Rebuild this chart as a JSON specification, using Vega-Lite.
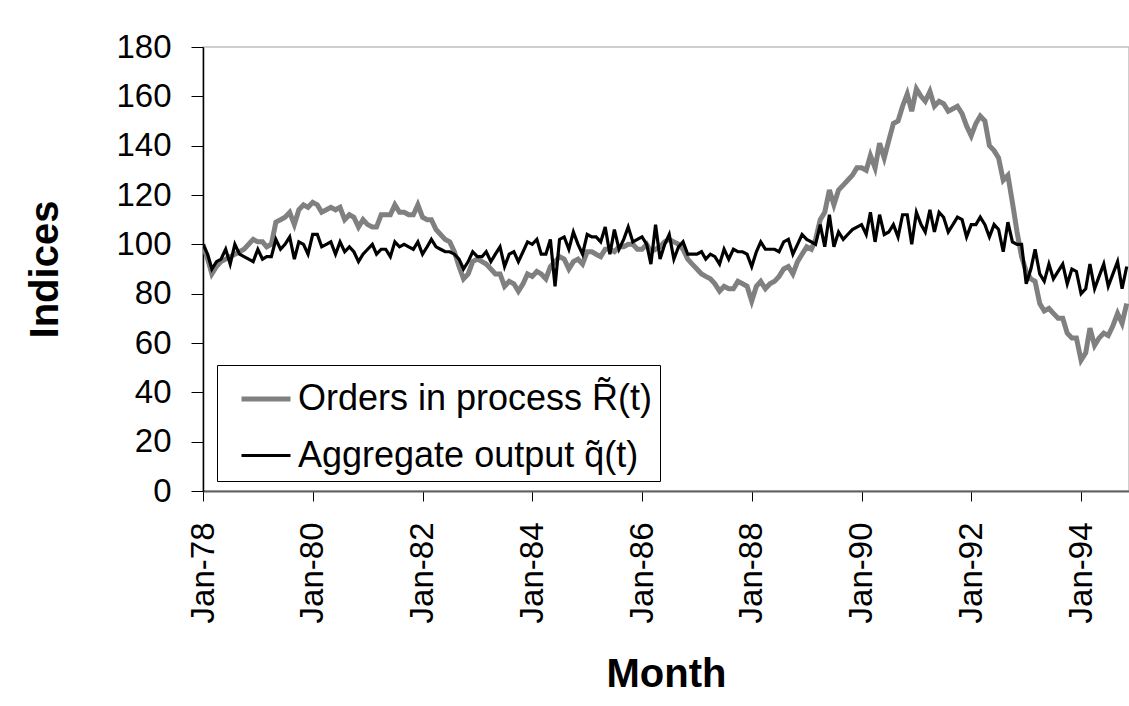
{
 "$schema": "https://vega.github.io/schema/vega-lite/v6.json",
 "width": 926, "height": 444,
 "autosize": "none",
 "padding": {"left": 203, "top": 47, "right": 0, "bottom": 215},
 "background": "white",
 "data": {"values": [
{"d":"1978-01-01","R":100,"q":100},{"d":"1978-02-01","R":94,"q":96},{"d":"1978-03-01","R":88,"q":90},{"d":"1978-04-01","R":91,"q":93},{"d":"1978-05-01","R":93,"q":94},{"d":"1978-06-01","R":94,"q":98},{"d":"1978-07-01","R":95,"q":92},{"d":"1978-08-01","R":96,"q":100},{"d":"1978-09-01","R":97,"q":96},{"d":"1978-10-01","R":98,"q":95},{"d":"1978-11-01","R":100,"q":94},{"d":"1978-12-01","R":102,"q":93},
{"d":"1979-01-01","R":101,"q":98},{"d":"1979-02-01","R":101,"q":94},{"d":"1979-03-01","R":99,"q":95},{"d":"1979-04-01","R":100,"q":95},{"d":"1979-05-01","R":109,"q":102},{"d":"1979-06-01","R":110,"q":98},{"d":"1979-07-01","R":111,"q":100},{"d":"1979-08-01","R":113,"q":103},{"d":"1979-09-01","R":108,"q":94},{"d":"1979-10-01","R":114,"q":101},{"d":"1979-11-01","R":116,"q":100},{"d":"1979-12-01","R":115,"q":96},
{"d":"1980-01-01","R":117,"q":104},{"d":"1980-02-01","R":116,"q":104},{"d":"1980-03-01","R":113,"q":99},{"d":"1980-04-01","R":114,"q":100},{"d":"1980-05-01","R":115,"q":101},{"d":"1980-06-01","R":114,"q":96},{"d":"1980-07-01","R":115,"q":101},{"d":"1980-08-01","R":110,"q":97},{"d":"1980-09-01","R":112,"q":99},{"d":"1980-10-01","R":111,"q":97},{"d":"1980-11-01","R":107,"q":93},{"d":"1980-12-01","R":110,"q":96},
{"d":"1981-01-01","R":108,"q":98},{"d":"1981-02-01","R":107,"q":100},{"d":"1981-03-01","R":107,"q":96},{"d":"1981-04-01","R":112,"q":98},{"d":"1981-05-01","R":112,"q":98},{"d":"1981-06-01","R":112,"q":95},{"d":"1981-07-01","R":116,"q":101},{"d":"1981-08-01","R":113,"q":99},{"d":"1981-09-01","R":113,"q":100},{"d":"1981-10-01","R":112,"q":99},{"d":"1981-11-01","R":112,"q":98},{"d":"1981-12-01","R":116,"q":101},
{"d":"1982-01-01","R":111,"q":96},{"d":"1982-02-01","R":110,"q":99},{"d":"1982-03-01","R":110,"q":102},{"d":"1982-04-01","R":106,"q":99},{"d":"1982-05-01","R":104,"q":98},{"d":"1982-06-01","R":102,"q":97},{"d":"1982-07-01","R":101,"q":97},{"d":"1982-08-01","R":97,"q":96},{"d":"1982-09-01","R":91,"q":94},{"d":"1982-10-01","R":86,"q":90},{"d":"1982-11-01","R":88,"q":93},{"d":"1982-12-01","R":93,"q":97},
{"d":"1983-01-01","R":94,"q":95},{"d":"1983-02-01","R":93,"q":95},{"d":"1983-03-01","R":92,"q":97},{"d":"1983-04-01","R":90,"q":93},{"d":"1983-05-01","R":88,"q":96},{"d":"1983-06-01","R":88,"q":99},{"d":"1983-07-01","R":83,"q":91},{"d":"1983-08-01","R":85,"q":96},{"d":"1983-09-01","R":84,"q":97},{"d":"1983-10-01","R":81,"q":93},{"d":"1983-11-01","R":84,"q":97},{"d":"1983-12-01","R":88,"q":101},
{"d":"1984-01-01","R":87,"q":100},{"d":"1984-02-01","R":89,"q":102},{"d":"1984-03-01","R":88,"q":96},{"d":"1984-04-01","R":86,"q":96},{"d":"1984-05-01","R":91,"q":102},{"d":"1984-06-01","R":93,"q":83},{"d":"1984-07-01","R":95,"q":102},{"d":"1984-08-01","R":94,"q":103},{"d":"1984-09-01","R":90,"q":98},{"d":"1984-10-01","R":93,"q":105},{"d":"1984-11-01","R":94,"q":100},{"d":"1984-12-01","R":92,"q":96},
{"d":"1985-01-01","R":97,"q":104},{"d":"1985-02-01","R":97,"q":103},{"d":"1985-03-01","R":96,"q":103},{"d":"1985-04-01","R":95,"q":101},{"d":"1985-05-01","R":98,"q":107},{"d":"1985-06-01","R":98,"q":96},{"d":"1985-07-01","R":97,"q":106},{"d":"1985-08-01","R":99,"q":98},{"d":"1985-09-01","R":99,"q":102},{"d":"1985-10-01","R":100,"q":107},{"d":"1985-11-01","R":100,"q":101},{"d":"1985-12-01","R":98,"q":102},
{"d":"1986-01-01","R":98,"q":103},{"d":"1986-02-01","R":100,"q":100},{"d":"1986-03-01","R":97,"q":92},{"d":"1986-04-01","R":98,"q":108},{"d":"1986-05-01","R":99,"q":94},{"d":"1986-06-01","R":101,"q":100},{"d":"1986-07-01","R":102,"q":104},{"d":"1986-08-01","R":101,"q":94},{"d":"1986-09-01","R":100,"q":99},{"d":"1986-10-01","R":98,"q":101},{"d":"1986-11-01","R":94,"q":96},{"d":"1986-12-01","R":92,"q":96},
{"d":"1987-01-01","R":90,"q":96},{"d":"1987-02-01","R":88,"q":97},{"d":"1987-03-01","R":87,"q":94},{"d":"1987-04-01","R":86,"q":96},{"d":"1987-05-01","R":84,"q":95},{"d":"1987-06-01","R":81,"q":92},{"d":"1987-07-01","R":83,"q":98},{"d":"1987-08-01","R":82,"q":94},{"d":"1987-09-01","R":82,"q":98},{"d":"1987-10-01","R":85,"q":97},{"d":"1987-11-01","R":84,"q":97},{"d":"1987-12-01","R":83,"q":96},
{"d":"1988-01-01","R":77,"q":91},{"d":"1988-02-01","R":83,"q":97},{"d":"1988-03-01","R":85,"q":101},{"d":"1988-04-01","R":82,"q":98},{"d":"1988-05-01","R":84,"q":98},{"d":"1988-06-01","R":85,"q":98},{"d":"1988-07-01","R":87,"q":97},{"d":"1988-08-01","R":90,"q":101},{"d":"1988-09-01","R":91,"q":102},{"d":"1988-10-01","R":88,"q":96},{"d":"1988-11-01","R":93,"q":100},{"d":"1988-12-01","R":96,"q":104},
{"d":"1989-01-01","R":99,"q":102},{"d":"1989-02-01","R":98,"q":101},{"d":"1989-03-01","R":102,"q":100},{"d":"1989-04-01","R":110,"q":108},{"d":"1989-05-01","R":113,"q":99},{"d":"1989-06-01","R":122,"q":112},{"d":"1989-07-01","R":116,"q":99},{"d":"1989-08-01","R":122,"q":105},{"d":"1989-09-01","R":124,"q":102},{"d":"1989-10-01","R":126,"q":104},{"d":"1989-11-01","R":128,"q":106},{"d":"1989-12-01","R":131,"q":107},
{"d":"1990-01-01","R":131,"q":108},{"d":"1990-02-01","R":130,"q":104},{"d":"1990-03-01","R":136,"q":113},{"d":"1990-04-01","R":131,"q":101},{"d":"1990-05-01","R":141,"q":112},{"d":"1990-06-01","R":135,"q":104},{"d":"1990-07-01","R":142,"q":105},{"d":"1990-08-01","R":149,"q":108},{"d":"1990-09-01","R":150,"q":103},{"d":"1990-10-01","R":156,"q":112},{"d":"1990-11-01","R":161,"q":112},{"d":"1990-12-01","R":154,"q":100},
{"d":"1991-01-01","R":163,"q":113},{"d":"1991-02-01","R":160,"q":108},{"d":"1991-03-01","R":158,"q":105},{"d":"1991-04-01","R":162,"q":114},{"d":"1991-05-01","R":156,"q":105},{"d":"1991-06-01","R":158,"q":113},{"d":"1991-07-01","R":157,"q":111},{"d":"1991-08-01","R":154,"q":105},{"d":"1991-09-01","R":155,"q":108},{"d":"1991-10-01","R":156,"q":111},{"d":"1991-11-01","R":153,"q":110},{"d":"1991-12-01","R":148,"q":103},
{"d":"1992-01-01","R":144,"q":108},{"d":"1992-02-01","R":149,"q":108},{"d":"1992-03-01","R":152,"q":111},{"d":"1992-04-01","R":150,"q":108},{"d":"1992-05-01","R":140,"q":103},{"d":"1992-06-01","R":138,"q":108},{"d":"1992-07-01","R":135,"q":106},{"d":"1992-08-01","R":126,"q":97},{"d":"1992-09-01","R":128,"q":109},{"d":"1992-10-01","R":117,"q":101},{"d":"1992-11-01","R":105,"q":100},{"d":"1992-12-01","R":95,"q":100},
{"d":"1993-01-01","R":89,"q":84},{"d":"1993-02-01","R":86,"q":90},{"d":"1993-03-01","R":85,"q":98},{"d":"1993-04-01","R":76,"q":88},{"d":"1993-05-01","R":73,"q":85},{"d":"1993-06-01","R":74,"q":92},{"d":"1993-07-01","R":72,"q":86},{"d":"1993-08-01","R":70,"q":89},{"d":"1993-09-01","R":70,"q":92},{"d":"1993-10-01","R":64,"q":84},{"d":"1993-11-01","R":62,"q":90},{"d":"1993-12-01","R":62,"q":89},
{"d":"1994-01-01","R":53,"q":80},{"d":"1994-02-01","R":56,"q":82},{"d":"1994-03-01","R":66,"q":92},{"d":"1994-04-01","R":59,"q":82},{"d":"1994-05-01","R":62,"q":87},{"d":"1994-06-01","R":64,"q":92},{"d":"1994-07-01","R":63,"q":83},{"d":"1994-08-01","R":67,"q":88},{"d":"1994-09-01","R":72,"q":93},{"d":"1994-10-01","R":68,"q":82},{"d":"1994-11-01","R":76,"q":91}
 ]},
 "transform": [{"fold": ["R", "q"], "as": ["series", "value"]}],
 "mark": {"type": "line", "clip": true, "strokeJoin": "miter"},
 "encoding": {
  "x": {
   "field": "d", "type": "temporal", "title": "Month",
   "scale": {"type": "utc", "domain": [{"year": 1978, "month": 1, "date": 1, "utc": true}, {"year": 1994, "month": 11, "date": 16, "utc": true}]},
   "axis": {
    "values": [
     {"year": 1978, "month": 1, "date": 1, "utc": true},
     {"year": 1980, "month": 1, "date": 1, "utc": true},
     {"year": 1982, "month": 1, "date": 1, "utc": true},
     {"year": 1984, "month": 1, "date": 1, "utc": true},
     {"year": 1986, "month": 1, "date": 1, "utc": true},
     {"year": 1988, "month": 1, "date": 1, "utc": true},
     {"year": 1990, "month": 1, "date": 1, "utc": true},
     {"year": 1992, "month": 1, "date": 1, "utc": true},
     {"year": 1994, "month": 1, "date": 1, "utc": true}
    ],
    "labelExpr": "utcFormat(datum.value, '%b-%y')",
    "labelAngle": -90, "labelFontSize": 33, "labelFont": "Liberation Sans", "labelColor": "black",
    "labelPadding": 21, "labelFlush": false, "labelOverlap": false, "labelBound": false,
    "tickSize": 10, "tickColor": "black", "tickWidth": 1,
    "domainColor": "#606060", "domainWidth": 2,
    "grid": false,
    "titleFontSize": 40, "titleFont": "Liberation Sans", "titleFontWeight": "bold", "titleColor": "black", "titlePadding": 32
   }
  },
  "y": {
   "field": "value", "type": "quantitative", "title": "Indices",
   "scale": {"domain": [0, 180], "nice": false, "zero": true},
   "axis": {
    "values": [0, 20, 40, 60, 80, 100, 120, 140, 160, 180],
    "labelFontSize": 33, "labelFont": "Liberation Sans", "labelColor": "black", "labelPadding": 20,
    "tickSize": 12, "tickColor": "black", "tickWidth": 1,
    "domainColor": "black", "domainWidth": 1.5,
    "grid": false,
    "titleFontSize": 40, "titleFont": "Liberation Sans", "titleFontWeight": "bold", "titleColor": "black", "titlePadding": 50
   }
  },
  "color": {
   "field": "series", "type": "nominal",
   "scale": {"domain": ["R", "q"], "range": ["#808080", "#000000"]},
   "legend": {
    "title": null, "orient": "none", "legendX": 14, "legendY": 318,
    "strokeColor": "black", "fillColor": "white", "padding": 7,
    "labelFontSize": 36, "labelFont": "Liberation Sans", "labelColor": "black", "labelLimit": 0,
    "symbolType": "stroke", "symbolSize": 2400, "rowPadding": 12, "labelOffset": 5, "symbolOffset": 15,
    "labelExpr": "datum.value == 'R' ? 'Orders in process R\u0303(t) ' : 'Aggregate output q\u0303(t)'"
   }
  },
  "strokeWidth": {
   "field": "series", "type": "nominal",
   "scale": {"domain": ["R", "q"], "range": [5, 3.2]}
  }
 },
 "config": {
  "view": {"stroke": "#c0c0c0", "strokeWidth": 1.5},
  "font": "Liberation Sans"
 }
}
